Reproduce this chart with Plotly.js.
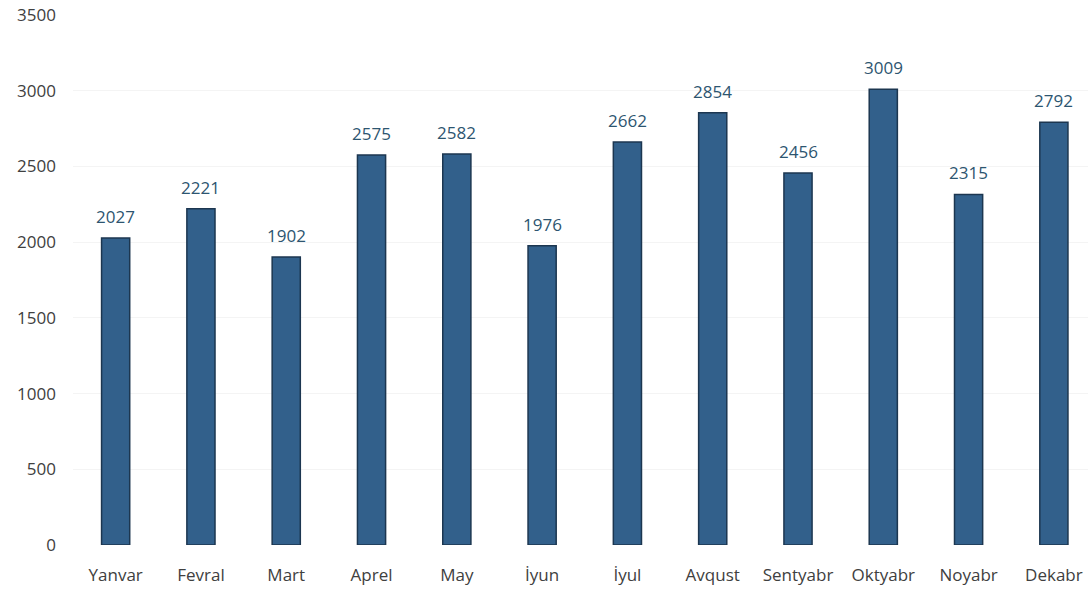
<!DOCTYPE html>
<html>
<head>
<meta charset="utf-8">
<script src="https://cdn.plot.ly/plotly-3.0.1.min.js"></script>
<style>html,body{margin:0;padding:0;background:#fff;}#chart{width:1088px;height:590px;}</style>
</head>
<body>
<div id="chart"></div>
<script>
const months = ["Yanvar","Fevral","Mart","Aprel","May","İyun","İyul","Avqust","Sentyabr","Oktyabr","Noyabr","Dekabr"];
const values = [2027, 2221, 1902, 2575, 2582, 1976, 2662, 2854, 2456, 3009, 2315, 2792];
const yTicks = [0, 500, 1000, 1500, 2000, 2500, 3000, 3500];

const FONT = '"Open Sans", "Noto Sans", sans-serif';

const trace = {
  type: 'bar',
  x: months,
  y: values,
  width: 0.33,
  marker: {color: '#32608b', line: {color: '#1c3650', width: 1.5}},
  hoverinfo: 'skip'
};

const annotations = months.map((m, i) => ({
  x: m, y: values[i], xref: 'x', yref: 'y',
  text: String(values[i]),
  showarrow: false, yanchor: 'bottom', yshift: 8,
  font: {family: FONT, size: 17, color: '#2d5570'}
}));

const layout = {
  width: 1088, height: 590,
  margin: {l: 73, r: 0, t: 15, b: 45},
  paper_bgcolor: '#ffffff', plot_bgcolor: '#ffffff',
  showlegend: false,
  font: {family: FONT, size: 17, color: '#404040'},
  annotations: annotations,
  xaxis: {
    type: 'category',
    range: [-0.5, 11.4],
    showgrid: false, zeroline: false, showline: false,
    ticks: '', ticklabelstandoff: 18,
    tickfont: {family: FONT, size: 17, color: '#404040'}
  },
  yaxis: {
    range: [0, 3500],
    tickvals: yTicks,
    ticktext: yTicks.map(String),
    showgrid: true, gridcolor: '#f4f4f4', gridwidth: 1,
    zeroline: false, showline: false, ticks: '',
    ticklabelstandoff: 16,
    tickfont: {family: FONT, size: 17, color: '#404040'}
  }
};

Plotly.newPlot('chart', [trace], layout, {displayModeBar: false, staticPlot: true});
</script>
</body>
</html>
